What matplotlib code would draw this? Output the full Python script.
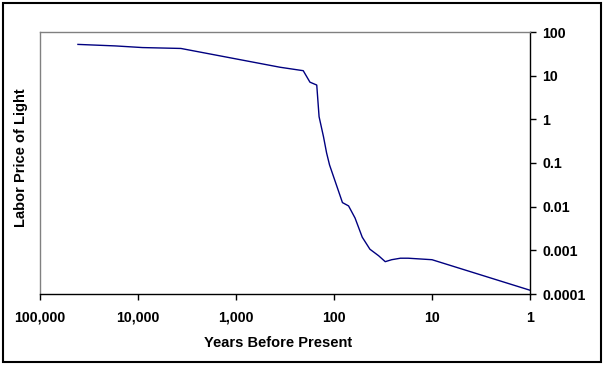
import matplotlib
matplotlib.use('Agg')
from matplotlib import pyplot as plt
from matplotlib.patches import Rectangle
from matplotlib.ticker import FixedLocator, FixedFormatter, NullLocator

# years before present and labor price of light
years = [41000, 17000, 9000, 3650, 356, 206, 176, 150, 149, 142, 128, 119,
         111, 82, 71, 61, 51.5, 43, 35, 30, 25.8, 21, 17.5, 10, 1]
price = [52, 48, 44, 42, 15.6, 13, 7.1, 6.1, 5.0, 1.15, 0.4, 0.17,
         0.09, 0.0124, 0.0104, 0.0055, 0.002, 0.00106, 0.00075, 0.00055,
         0.00061, 0.00066, 0.00066, 0.00061, 0.000122]

x_ticks = [100000, 10000, 1000, 100, 10, 1]
x_labels = ['100,000', '10,000', '1,000', '100', '10', '1']
y_ticks = [0.0001, 0.001, 0.01, 0.1, 1, 10, 100]
y_labels = ['0.0001', '0.001', '0.01', '0.1', '1', '10', '100']

plt.rcParams['font.family'] = ['Liberation Sans', 'DejaVu Sans']

fig = plt.figure(figsize=(6.04, 3.66), dpi=100)
ax = fig.add_axes([40 / 604, 72 / 366, 490 / 604, 262 / 366])

ax.plot(years, price, color='#000080', lw=1.0)

ax.set_xscale('log')
ax.set_yscale('log')
ax.set_xlim(100000, 1)
ax.set_ylim(0.0001, 100)

ax.xaxis.set_major_locator(FixedLocator(x_ticks))
ax.xaxis.set_major_formatter(FixedFormatter(x_labels))
ax.xaxis.set_minor_locator(NullLocator())
ax.yaxis.set_major_locator(FixedLocator(y_ticks))
ax.yaxis.set_major_formatter(FixedFormatter(y_labels))
ax.yaxis.set_minor_locator(NullLocator())

ax.yaxis.tick_right()
ax.tick_params(axis='x', direction='out', length=4, width=1, pad=8,
               labelsize=10.2)
ax.tick_params(axis='y', direction='out', length=4, width=1, pad=5,
               labelsize=10.2)
for lbl in ax.get_xticklabels() + ax.get_yticklabels():
    lbl.set_fontweight('bold')

ax.spines['top'].set_color('#808080')
ax.spines['left'].set_color('#808080')
ax.spines['right'].set_color('black')
ax.spines['bottom'].set_color('black')
for s in ax.spines.values():
    s.set_linewidth(1.0)

fig.text(21 / 604, 1 - 158 / 366, 'Labor Price of Light', rotation=90,
         ha='center', va='center', fontsize=10.5, fontweight='bold')
fig.text(278 / 604, 1 - 343 / 366, 'Years Before Present',
         ha='center', va='center', fontsize=10.5, fontweight='bold')

# outer border of the chart
fig.patches.append(Rectangle((3 / 604, 4 / 366), 598 / 604, 359 / 366,
                             transform=fig.transFigure, fill=False,
                             edgecolor='black', lw=1.5))

fig.savefig('out.png', dpi=100)
